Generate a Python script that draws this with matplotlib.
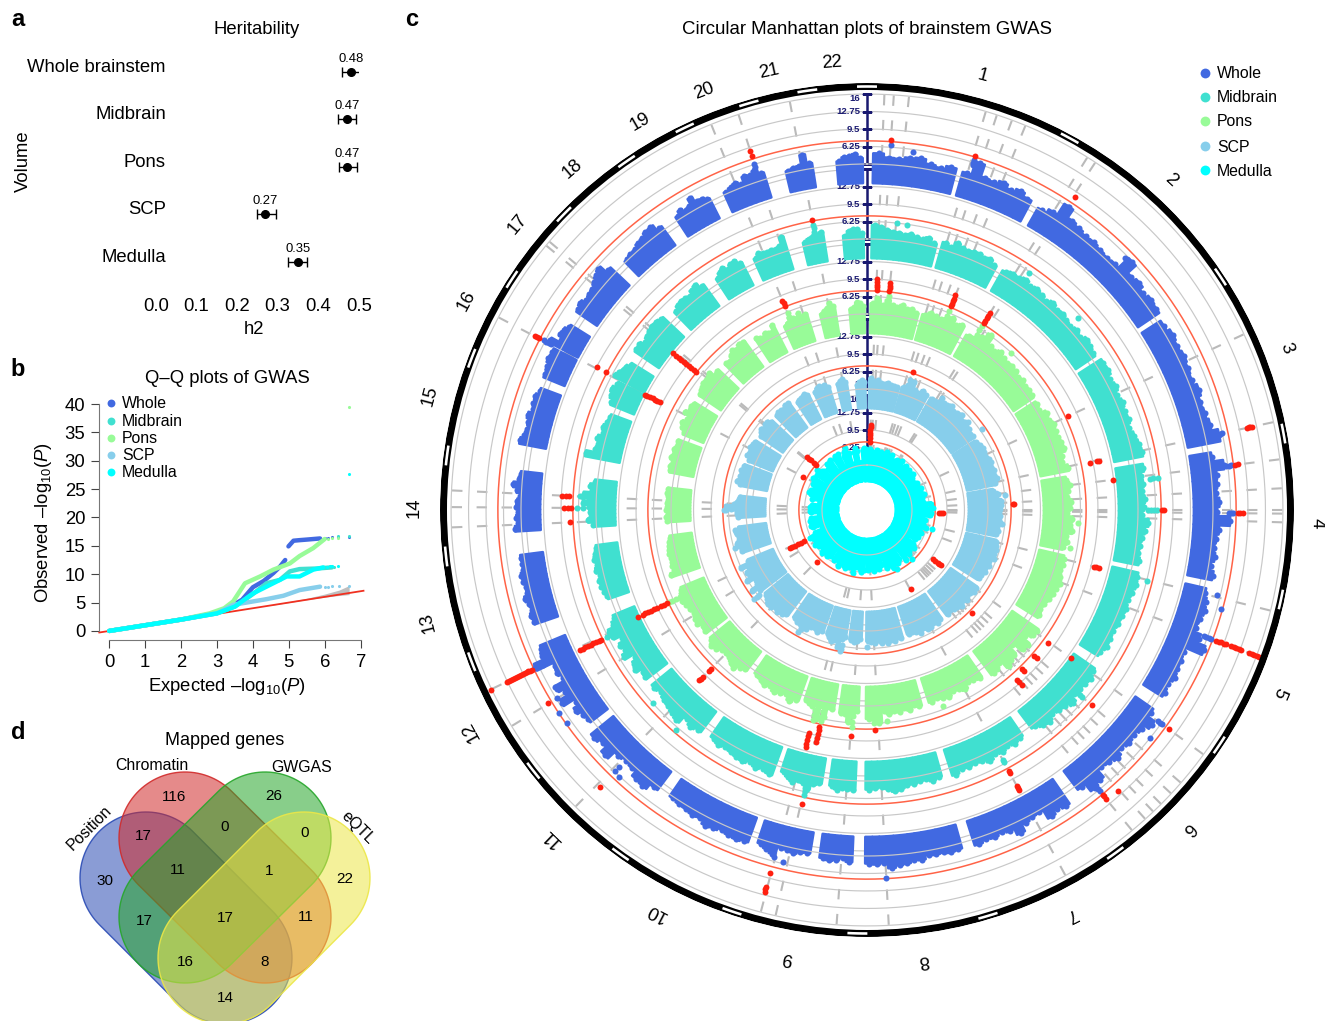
import numpy as np
import matplotlib
matplotlib.use("Agg")
import matplotlib.pyplot as plt
from matplotlib.patches import Polygon

plt.rcParams["font.family"] = ["Liberation Sans", "DejaVu Sans"]
plt.rcParams["mathtext.fontset"] = "custom"
plt.rcParams["mathtext.rm"] = "Liberation Sans"
plt.rcParams["mathtext.it"] = "Liberation Sans:italic"
plt.rcParams["mathtext.default"] = "regular"

W, H = 1325, 1021
BLUE, TEAL, GREEN, SKY, CYAN = "#4169E1", "#40E0D0", "#98FB98", "#87CEEB", "#00FFFF"
TRACK_NAMES = ["Whole", "Midbrain", "Pons", "SCP", "Medulla"]
TRACK_COLORS = [BLUE, TEAL, GREEN, SKY, CYAN]

# panel a
h2_names = ["Whole brainstem", "Midbrain", "Pons", "SCP", "Medulla"]
h2_values = [0.48, 0.47, 0.47, 0.27, 0.35]
h2_lo = [0.458, 0.448, 0.45, 0.25, 0.325]
h2_hi = [0.504, 0.493, 0.495, 0.295, 0.373]

# panel b, observed against expected (nan = break in the curve)
nan = float("nan")
qq_x = {
    "Whole": [0, 1, 2, 3, 3.4, 3.7, 4, 4.3, 4.57, 4.75, 4.9, nan, 4.99, 5.13, 5.3, 5.5, 5.87],
    "Midbrain": [0, 1, 2, 3, 3.5, 4, 4.38, 4.75, 5.03, 5.3, 5.78, 6.2],
    "Pons": [0, 1, 2, 2.8, 3.2, 3.45, 3.78, 4.2, 4.57, 5.03, 5.3, 5.68, 6.0],
    "SCP": [0, 1, 2, 3, 3.45, 4.38, 4.85, 5.3, 5.87],
    "Medulla": [0, 1, 2, 3, 3.5, 4, 4.66, 4.94, 5.3, 5.68, 5.96],
}
qq_y = {
    "Whole": [0, 1, 2, 3.2, 4.4, 5.5, 7.7, 8.8, 10.2, 11.3, 12.5, nan, 14.9, 15.9, 16.0, 16.1, 16.3],
    "Midbrain": [0, 1, 2, 3.1, 4.3, 6.5, 8.4, 9.0, 10.5, 10.9, 11.0, 11.2],
    "Pons": [0, 1, 2, 3.1, 4.0, 5.2, 8.4, 9.6, 10.8, 11.9, 13.2, 14.6, 16.2],
    "SCP": [0, 1, 2, 3.1, 4.6, 5.6, 6.2, 7.2, 7.8],
    "Medulla": [0, 1, 2, 3.1, 4.3, 6.6, 8.7, 9.6, 9.6, 10.8, 11.2],
}
qq_tail_x = {
    "Whole": [6.0, 6.1, 6.2, 6.38, 6.68],
    "Midbrain": [6.25, 6.38, 6.68],
    "Pons": [6.1, 6.2, 6.37, 6.68],
    "SCP": [6.0, 6.1, 6.2, 6.4, 6.68],
    "Medulla": [6.05, 6.15, 6.2, 6.38, 6.68],
}
qq_tail_y = {
    "Whole": [16.4, 16.4, 16.5, 16.5, 16.6],
    "Midbrain": [11.3, 16.8, 16.8],
    "Pons": [16.2, 16.3, 16.3, 39.4],
    "SCP": [7.8, 7.8, 7.9, 7.9, 8.0],
    "Medulla": [11.3, 11.4, 11.4, 11.4, 27.7],
}
ci_x = [4.5, 5.5, 6.0, 6.4, 6.68]
ci_lo = [4.5, 5.5, 5.95, 6.25, 6.4]
ci_hi = [4.6, 5.75, 6.5, 7.2, 8.0]

# panel d
venn_counts = ["116", "26", "17", "0", "0", "30", "11", "1", "22", "17", "17", "11", "16", "8", "14"]

# panel c, sectors in degrees clockwise from the top (chr1, chr9 and chr16 split at the centromere)
sector_start = [1, 15.8, 29.5, 57.2, 80.5, 103, 124.8, 145.4, 164.3, 182.4, 189.4, 199.7, 216.8,
                232.5, 251, 266.5, 280.8, 292.3, 297.8, 304.3, 315.7, 326.8, 335.7, 346.5, 355]
sector_end = [14.7, 28, 56, 79, 101.5, 122.3, 143, 162.2, 180.3, 187.8, 198.2, 214.6, 230.9,
              247.5, 262.6, 276.4, 290.5, 297.3, 302, 313.4, 324.1, 333.2, 343, 351, 359.3]
chrom_edges = [0, 28.6, 56.6, 79.6, 102.2, 123.7, 144.1, 163.4, 181.3, 198.6, 215.6, 232, 249,
               263.7, 277.4, 291, 303, 314.3, 325.4, 334.5, 343.8, 351.9]
chrom_labels = [str(i) for i in range(1, 23)]
chrom_label_angle = [15, 42.6, 68.7, 91.4, 113.5, 134.5, 153, 172.6, 190, 207.6, 224, 241, 256,
                     270.6, 285, 298, 309.6, 319.5, 330, 339, 347.7, 355.7]
signal_angles = [2.4, 3.7, 5.8, 16.6, 18.2, 20.4, 22.4, 32, 33.3, 65, 77.8, 83, 87, 90, 90.5, 91.7,
                 104, 110.5, 126, 131, 133, 135, 136.5, 138, 140.4, 151.5, 177, 184.2, 192.7, 194.8,
                 224.5, 238.7, 244.5, 267.6, 270.4, 272.7, 297.6, 309.5, 310.2, 338, 342, 349.3]

# top of each band in -log10(P), one list per sector
whole_env = [
    [5.0, 4.3, 4.2, 4.6, 4.8, 4.0, 3.7, 4.3], [4.0, 6.5, 4.2, 4.0, 4.6, 3.9, 4.5, 3.8],
    [3.2, 4.0, 6.4, 4.6, 4.2, 3.8, 3.9, 3.6, 3.4, 3.6, 6.2, 4.2, 4.6, 3.9, 4.4, 4.2],
    [3.6, 4.2, 3.9, 4.2, 3.9, 3.7, 4.3, 3.8, 4.0, 4.4, 5.6],
    [3.5, 5.5, 4.0, 3.9, 3.7, 4.2, 3.8, 6.2, 4.2, 3.8, 3.6, 3.9, 3.4, 4.1],
    [3.4, 3.9, 4.2, 3.8, 3.6, 4.9, 6.5, 3.2, 3.4, 3.5, 3.8, 3.3, 3.6],
    [3.5, 5.0, 4.0, 3.5, 3.9, 3.4, 4.2, 3.6, 3.4, 5.0, 5.5, 3.8],
    [5.0, 4.5, 5.2, 3.4, 3.5, 3.9, 5.2, 4.0, 3.6, 4.0, 3.8, 4.2],
    [4.0, 4.2, 3.9, 4.0, 3.8, 4.5, 4.3, 4.8, 5.0, 5.4, 4.3, 4.6, 4.4],
    [4.2, 3.6, 4.0, 4.2, 3.9], [3.4, 3.5, 3.9, 3.6, 3.5, 5.0, 4.4, 3.8],
    [4.3, 4.6, 4.4, 4.0, 4.4, 4.6, 3.9, 4.0, 3.7, 3.6, 3.3],
    [3.7, 4.8, 4.6, 3.6, 3.3, 3.7, 5.4, 4.2, 4.8],
    [3.5, 3.8, 4.5, 3.5, 5.8, 4.2, 5.2, 3.3, 3.8, 3.6, 6.9, 5.0, 4.5],
    [4.0, 4.2, 3.7, 3.9, 4.4, 3.8, 3.6, 4.0, 4.1, 3.6, 3.5, 3.7],
    [4.2, 3.6, 3.9, 3.5, 3.9, 3.7, 3.2, 3.9, 4.6, 3.7, 3.4],
    [4.5, 3.9, 3.6, 3.8, 4.2, 3.6, 3.8, 3.9, 3.4], [3.7, 3.9, 4.3, 4.2], [5.5, 3.8, 4.5, 4.3, 3.6],
    [4.1, 4.5, 3.9, 4.1, 4.3, 4.7, 5.3, 5.8, 4.3], [3.2, 3.5, 3.6, 4.1, 4.3, 4.8, 4.9, 3.8],
    [3.7, 4.4, 3.8, 4.1, 5.4, 4.3, 4.2, 3.6], [3.4, 3.8, 4.2, 3.6, 4.8, 4.6, 5.2, 4.3],
    [3.4, 3.7, 3.9, 5.8, 4.0], [3.7, 4.4, 4.5, 4.9, 4.1],
]
midbrain_env = [
    [5.6, 5.3, 4.8, 4.6, 4.5, 4.2, 4.5, 4.2, 4.0, 4.5, 3.7], [4.4, 4.0, 5.0, 4.5, 4.3, 4.5, 4.7, 4.2, 4.6, 3.9],
    [3.8, 4.3, 4.2, 4.7, 4.1, 4.5, 4.2, 3.7, 4.4, 3.9, 4.2, 3.8, 3.6, 4.0, 3.7, 4.4, 4.1, 3.8],
    [4.4, 4.5, 3.9, 4.3, 3.8, 4.2, 3.9, 4.1, 3.7, 4.2, 4.6, 4.9],
    [4.6, 4.0, 4.2, 3.9, 4.3, 4.1, 3.8, 5.0, 4.4, 4.0, 3.8, 3.7, 4.1],
    [4.4, 4.6, 4.2, 3.9, 4.2, 4.0, 3.9, 3.6, 3.8, 3.9, 3.4],
    [4.2, 4.7, 4.4, 4.3, 4.0, 5.2, 4.4, 4.2, 3.8, 4.6, 4.2, 3.5],
    [3.6, 4.0, 3.6, 4.2, 3.9, 4.6, 4.0, 3.7, 4.0, 3.8, 4.5],
    [4.0, 4.4, 3.9, 4.0, 4.3, 4.2, 4.8, 5.2, 4.6, 4.2, 4.4, 4.6],
    [4.8, 4.6, 4.5, 4.9, 4.3], [4.2, 4.6, 5.6, 4.8, 4.4, 5.0, 4.4, 3.8],
    [5.0, 4.5, 4.8, 4.3, 4.8, 4.6, 4.3, 4.0, 4.3, 3.8], [4.2, 4.6, 4.0, 5.4, 5.0, 4.6, 4.3, 3.8, 4.2],
    [4.3, 4.0, 5.0, 4.6, 3.6, 5.5, 4.5, 5.0, 4.0, 5.4, 5.7, 4.5, 3.8],
    [3.5, 3.8, 4.0, 4.1, 3.7, 4.3, 3.9, 4.2, 3.8, 3.5], [3.6, 4.5, 3.9, 4.2, 4.3, 5.5, 3.7, 5.4, 3.9, 4.3, 3.5],
    [6.0, 4.4, 4.2, 4.5, 3.8, 4.1, 3.6, 3.4], [4.2, 4.8, 5.2, 4.6], [5.8, 5.3, 5.0, 4.8, 4.2],
    [4.9, 5.0, 4.3, 4.8, 5.0, 5.3, 5.2, 4.8], [3.9, 4.5, 4.7, 4.5, 4.3, 5.0, 5.3, 4.4],
    [3.9, 4.6, 5.0, 4.3, 4.9, 5.1, 4.2], [3.8, 4.4, 4.2, 4.0, 4.2, 4.1, 4.3, 5.8],
    [3.7, 4.2, 4.5, 4.6, 5.0], [3.8, 4.6, 4.9, 4.8, 4.2],
]
pons_env = [
    [5.0, 5.6, 4.8, 5.8, 5.0, 4.7, 5.2, 4.6, 4.8, 4.3], [4.4, 5.0, 4.8, 4.6, 5.0, 5.6, 4.8, 5.2],
    [4.0, 4.3, 5.2, 6.4, 4.8, 4.5, 5.0, 4.6, 4.3, 4.6, 4.4, 4.0, 4.2, 3.8, 4.1, 3.9],
    [3.8, 3.5, 4.5, 4.3, 4.8, 4.6, 4.5, 4.8, 5.0, 4.2, 3.9, 4.8],
    [4.0, 4.5, 4.1, 3.8, 4.6, 4.3, 3.8, 4.8, 4.4, 4.9, 3.9, 4.2, 3.6],
    [4.2, 4.4, 4.2, 4.6, 5.0, 4.6, 4.5, 4.2, 3.9, 3.6, 4.1],
    [5.4, 5.2, 4.2, 5.6, 5.4, 3.4, 5.0, 5.2, 5.8, 4.2, 4.8, 5.0],
    [4.2, 3.8, 3.7, 4.6, 4.0, 3.8, 4.5, 4.2, 3.8, 4.2],
    [4.3, 3.9, 4.6, 4.0, 4.6, 4.2, 4.7, 4.0, 6.2, 5.0, 5.4],
    [4.0, 4.2, 6.2, 4.7, 4.6], [4.2, 3.8, 5.8, 4.0, 6.5, 3.9, 4.4, 4.0, 3.6],
    [4.2, 4.9, 4.0, 4.3, 4.6, 3.9, 4.3, 3.8, 3.4], [3.8, 4.2, 5.0, 4.6, 4.1, 3.8, 4.0, 4.6, 5.0, 4.2],
    [4.2, 4.0, 4.6, 4.4, 4.0, 4.3, 4.5, 5.0, 4.7, 4.1], [5.0, 4.2, 4.3, 4.0, 4.1, 4.3, 4.2, 4.0, 3.8, 3.6],
    [3.8, 3.9, 3.6, 3.9, 3.7, 3.8, 3.6, 3.7, 3.9, 3.8], [4.0, 4.1, 3.7, 4.3, 3.9, 4.2, 3.8, 4.0],
    [3.6, 4.2, 4.6, 4.1], [5.0, 4.4, 4.6, 4.3], [4.3, 4.6, 4.8, 5.2, 4.8, 5.0, 5.4, 4.3, 4.6],
    [4.4, 4.2, 4.8, 5.4, 5.0, 5.6, 5.4], [4.6, 4.2, 4.0, 4.6, 4.3, 4.0, 5.2],
    [4.0, 4.4, 5.2, 4.8, 4.5, 5.3, 4.6, 4.8], [4.0, 4.4, 4.8, 5.7, 5.0], [4.0, 4.3, 5.2, 5.0, 4.5],
]
scp_env = [
    [5.0, 4.5, 4.7, 4.3, 4.2, 4.5, 4.2, 4.1, 4.0], [4.3, 4.5, 5.8, 4.6, 4.2, 5.0, 4.6],
    [4.5, 4.4, 4.6, 5.0, 5.1, 5.5, 4.9, 5.1, 5.4, 4.8, 5.0, 4.6, 4.8, 4.3, 4.5],
    [4.3, 4.7, 5.0, 4.8, 4.7, 5.1, 5.2, 4.9, 5.3, 5.0, 5.4, 4.8],
    [4.2, 5.0, 4.6, 5.5, 4.9, 5.3, 5.0, 5.3, 5.1, 5.7, 4.8, 5.2, 4.9],
    [5.2, 5.5, 5.6, 5.4, 5.8, 5.1, 5.5, 5.0, 5.3, 4.9, 4.8], [5.4, 5.6, 5.2, 5.0, 5.5, 5.0, 5.6, 5.2, 5.0, 4.7, 5.1],
    [4.8, 5.2, 4.8, 5.3, 5.3, 4.8, 5.4, 5.0, 4.6, 4.8], [5.2, 4.8, 5.4, 5.1, 5.6, 4.9, 5.4, 4.8, 5.2, 5.0, 4.9],
    [4.6, 5.0, 5.1, 4.8], [4.5, 5.0, 6.6, 5.0, 5.4, 5.8, 5.1, 4.7], [4.6, 5.0, 4.5, 4.6, 5.4, 5.8, 5.1, 5.0, 4.7],
    [5.0, 5.5, 5.8, 5.4, 5.9, 6.0, 5.3, 5.0], [5.4, 6.6, 5.2, 5.0, 6.4, 5.5, 5.8, 5.0, 6.4, 4.5],
    [5.0, 4.9, 5.2, 5.5, 5.0, 4.8, 5.0, 5.2, 4.6], [4.5, 4.6, 4.6, 5.8, 6.8, 5.2, 4.7, 4.4, 4.3],
    [4.6, 5.3, 4.9, 5.0, 4.7, 5.1, 4.6, 4.8], [4.4, 5.0, 4.9], [5.2, 5.0, 4.8], [4.6, 4.9, 5.3, 4.9, 5.2, 5.3, 4.7],
    [4.8, 5.0, 5.0, 4.9, 5.3, 5.2], [4.3, 4.5, 4.7, 4.8, 5.0, 4.6], [4.5, 5.0, 5.2, 4.9, 5.1, 4.5],
    [4.6, 5.0, 5.2, 4.7], [3.8, 4.4, 4.6, 4.3],
]
medulla_env = [
    [5.2, 5.6, 5.4, 4.9, 6.0, 5.4, 5.8], [5.6, 6.0, 5.2, 5.8, 5.0], [5.4, 5.0, 5.8, 5.0, 5.5, 4.9, 5.4, 4.8, 5.6, 5.0],
    [4.7, 5.2, 4.8, 5.4, 5.0, 5.6, 5.2], [5.2, 6.6, 5.4, 6.2, 5.0, 6.4, 5.0, 5.6], [5.4, 6.2, 5.0, 5.6, 4.8, 5.4, 5.0],
    [5.3, 5.8, 5.1, 5.5, 5.9, 5.3, 6.4], [5.5, 6.0, 5.8, 6.6, 5.6, 6.0], [5.2, 5.8, 5.4, 6.0, 5.5, 5.8],
    [5.8, 6.2, 5.6], [5.4, 6.6, 5.4, 5.8], [6.2, 5.6, 6.4, 5.4, 5.7], [5.4, 5.9, 5.5, 6.2, 5.4],
    [5.8, 6.2, 5.4, 5.9, 6.0, 5.2], [5.2, 5.5, 5.0, 5.4, 5.1], [5.0, 5.3, 4.8, 5.2, 4.9], [5.1, 4.8, 5.4, 5.0, 5.6],
    [5.2, 5.8], [5.9, 6.3], [6.0, 5.5, 6.6, 5.7, 5.4], [5.2, 6.0, 5.7, 6.2], [5.8, 6.4, 5.6, 6.3], [5.5, 6.3, 6.8, 5.8],
    [5.6, 6.3, 5.7], [5.8, 6.2, 5.9],
]
track_env = [whole_env, midbrain_env, pons_env, scp_env, medulla_env]

# single SNPs above the bands, (angle, values); red from 7.3 upwards
whole_hits = [
    (3.7, [6.7, 7.6]), (7.3, [5.8]), (17, [5.8, 6.2, 6.7, 7.5]), (33.6, [6.3, 8.5]), (45.7, [5.8]),
    (77.8, [5.8, 6.2, 11, 11.3, 11.6, 11.9]), (83, [6, 6.4, 6.8, 7.6, 8.2]), (90.4, [6, 6.4, 6.8, 7.6, 8, 8.6]),
    (103.7, [5.6]), (105.7, [7.0]),
    (110.5, [5.5, 6, 6.5, 7, 8, 8.5, 9, 9.6, 10, 11, 11.5, 12, 12.5, 13, 14.5, 15, 15.5, 16, 16.5, 17]),
    (126, [5.5, 6, 6.5, 8]), (128.9, [6.2]), (138.2, [8.7]), (140.4, [5.5, 6, 6.5, 7.4, 7.8, 8.3]),
    (177, [7.2]), (193.4, [6]), (195, [5.5, 8.6, 11.2, 11.6, 12.1]), (224, [5, 6, 10.2]), (222.9, [6.4]),
    (240.4, [5.4]), (238.8, [6, 8]), (236.6, [7.2]), (234.6, [7.0]),
    (244.5, [5.5, 6.2, 7, 7.6, 8, 8.4, 8.8, 9.2, 9.6, 10, 10.4, 10.8, 11.2, 11.6, 12, 12.4, 12.9, 16.2]),
    (297.7, [5, 5.5, 6, 6.5, 7.5, 8, 8.4]), (342, [5.8, 6.4, 7.9, 8.8]),
]
midbrain_hits = [
    (6, [6.2]), (8, [6.1]), (349.3, [5.3, 5.9, 6.5, 7.5]), (34.4, [6.0]), (47.7, [5.7]),
    (83.7, [5.5, 6.2, 7.1]), (90, [4.8, 5.4, 6, 6.6, 7.5, 7.8]), (104.2, [6.3]), (131, [4.5, 5, 5.5, 8]),
    (151.5, [5.5, 6, 7.9, 8.3, 10.9, 11.4, 11.8]), (192.5, [4.8, 5.5, 6.2, 6.8, 8.6]), (221, [6.7]),
    (297.9, [7.5, 9.5]), (272.7, [4.5, 5.5, 6, 8, 8.6, 9.3]), (270.4, [5.5, 6.5, 7.6, 8.2, 9]), (267.6, [7.8]),
    (244, [5, 5.5, 6.5, 7.6, 8.1, 8.7, 9.2, 9.8, 10.3, 10.9, 11.4, 12]), (228, [6.2]),
]
pons_hits = [
    (2.6, [5, 6, 7.5, 8, 8.5, 9, 9.5]), (5.8, [5, 6.5, 7.5, 8, 8.5, 9]), (338, [5, 6, 7.5, 8, 8.5]),
    (22.4, [5.5, 6.5, 7.5, 8, 8.5, 9, 9.7]), (32, [5, 6, 7, 7.5, 8, 8.6, 9, 9.7]), (35, [5.6]), (42.5, [6.2]),
    (309, [5, 7.4, 8, 8.6, 9.2, 9.8, 10.4, 11, 11.6, 12.2, 13]), (297.5, [10, 10.5, 11, 11.5, 12, 12.6, 13]),
    (245, [5, 5.8, 6.6, 7.2, 7.6, 8.2, 8.8, 9.6, 10.2, 10.8, 11.4, 12, 12.6, 13.5]),
    (224.5, [8, 8.5, 10, 10.5, 11]), (194.5, [5, 6, 6.8, 9.3, 10, 10.8, 11.5, 12]),
    (192.4, [5, 6, 6.8, 7.8, 8.5, 9.2, 10, 10.8]), (184, [5, 6, 7, 8.6]), (174.6, [6]), (178, [4.8, 5.5, 6.2, 7.4]),
    (65, [7.8]), (78, [9, 10.6, 10.2]), (83, [12.7]), (104, [10, 10.4, 11]), (126.3, [8.4]), (131, [7.8, 8.4]),
    (135.7, [7.8, 8.4]), (138.6, [8.8, 9.3, 10]), (126.1, [13.4]), (158.8, [5.6]), (93.5, [5.8]), (100.6, [5.0]),
]
scp_hits = [
    (18.3, [5, 6, 7.6]), (87.7, [4.5, 5.5, 7.7, 7.9]), (134.4, [7.8]), (33.8, [5.6]), (45, [5.4]), (49, [5.4]),
    (54.8, [6.7]), (84, [6.3]), (261.5, [5.4]), (253.8, [6.0]), (231.7, [6, 6.6, 7.2]), (180, [6]),
    (190.7, [6, 6.8, 7.2]), (209.6, [6.6]), (270, [6.8, 7.0]),
]
medulla_hits = [
    (2.5, [5, 6, 7.3, 8, 8.5, 9, 9.5, 10, 10.5]), (311.6, [7.3, 7.8, 8.5, 9, 9.5]), (297, [8]),
    (243.7, [5.5, 6.5, 7.7, 8.3, 9, 9.6, 10.2, 10.6]), (224, [8]), (92.3, [5.5, 6.5, 8, 8.4, 8.8]),
    (126.7, [10, 10.5, 11, 11.4, 11.7]), (151, [11.4]), (287, [6]), (106, [7.2]), (153, [7]), (137.4, [7]),
    (88, [5.5, 6.5, 6.9]),
]
track_hits = [whole_hits, midbrain_hits, pons_hits, scp_hits, medulla_hits]

axis_ticks = [3, 6.25, 9.5, 12.75, 16]
axis_labels = ["3", "6.25", "9.5", "12.75", "16"]
threshold = 7.3

fig = plt.figure(figsize=(W / 100, H / 100), dpi=100)


def px_axes(left, top, right, bottom, **kw):
    return fig.add_axes([left / W, 1 - bottom / H, (right - left) / W, (bottom - top) / H], **kw)


bg = fig.add_axes([0, 0, 1, 1])
bg.set_xlim(0, W)
bg.set_ylim(H, 0)
bg.axis("off")

for letter, x, y in [("a", 18, 20), ("b", 18, 369), ("d", 18, 732), ("c", 412, 20)]:
    bg.text(x, y, letter, fontsize=17, fontweight="bold", ha="center", va="center")

# a: heritability
ax = px_axes(155.7, 45, 359, 292)
ax.patch.set_alpha(0)
rows = np.arange(5)
ax.errorbar(h2_values, rows, xerr=[np.array(h2_values) - h2_lo, np.array(h2_hi) - h2_values], fmt="o", color="k",
            ms=5.5, elinewidth=1, capsize=3.6, capthick=1)
for val, row in zip(h2_values, rows):
    ax.annotate(f"{val:.2f}", (val, row), xytext=(0, 9.4), textcoords="offset points", ha="center", va="center",
                fontsize=9.4)
ax.set_xlim(0, 0.5)
ax.set_ylim((292 - 71.7) / 47.6, (45 - 71.7) / 47.6)
ax.set_yticks(rows - 0.14, h2_names, fontsize=13.3)
ax.set_xticks([0, 0.1, 0.2, 0.3, 0.4, 0.5], ["0.0", "0.1", "0.2", "0.3", "0.4", "0.5"], fontsize=13.3)
ax.tick_params(length=0)
ax.tick_params(axis="y", pad=-7.4)
ax.tick_params(axis="x", pad=4)
for s in ax.spines.values():
    s.set_visible(False)
bg.text(257, 29.5, "Heritability", fontsize=13.3, ha="center", va="center")
bg.text(254, 329.5, "h2", fontsize=13.3, ha="center", va="center")
bg.text(23, 161, "Volume", fontsize=13.3, rotation=90, ha="center", va="center")

# b: Q-Q
ax = px_axes(99.3, 404, 363.5, 640)
ax.patch.set_alpha(0)
ax.fill_between(ci_x, ci_lo, ci_hi, color="#BEBEBE", lw=0, zorder=1)
ax.plot([-0.278, 7.08], [-0.278, 7.08], color="#F03020", lw=1.3, zorder=2, clip_on=False)
for name, color in zip(TRACK_NAMES, TRACK_COLORS):
    ax.plot(qq_x[name], qq_y[name], color=color, lw=3.2, zorder=3, solid_capstyle="round")
    ax.scatter(qq_tail_x[name], qq_tail_y[name], color=color, s=5, lw=0, zorder=3, clip_on=False)
ax.set_xlim(-0.278, 7.08)
ax.set_ylim(-1.6, 40)
ax.set_xticks(range(8))
ax.set_yticks(range(0, 41, 5))
ax.tick_params(labelsize=13.3, length=6, width=0.8, color="#444444", pad=4)
ax.spines["top"].set_visible(False)
ax.spines["right"].set_visible(False)
ax.spines["left"].set_bounds(0, 40)
ax.spines["bottom"].set_bounds(0, 7)
ax.spines["left"].set_color("#777777")
ax.spines["bottom"].set_color("#777777")
bg.text(227, 378, "Q\u2013Q plots of GWAS", fontsize=13.3, ha="center", va="center")
bg.text(227, 686, "Expected \u2013log$_{10}$($\\mathit{P}$)", fontsize=13.3, ha="center", va="center")
bg.text(44, 523, "Observed \u2013log$_{10}$($\\mathit{P}$)", fontsize=13.3, rotation=90, ha="center", va="center")
for name, color, y in zip(TRACK_NAMES, TRACK_COLORS, [403, 421, 437.7, 454.5, 471.5]):
    bg.scatter([110.7], [y], color=color, s=32, lw=0, zorder=5)
    bg.text(122, y + 0.5, name, fontsize=11.4, va="center", zorder=5)

# d: Venn
stadiums = [
    ((146, 878), (226, 958), "#2A4BB4"),
    ((185, 838), (265, 917), "#D12A2A"),
    ((265, 838), (185, 917), "#26A62A"),
    ((304, 878), (224, 958), "#ECE747"),
]
for p0, p1, color in stadiums:
    a = np.arctan2(p1[1] - p0[1], p1[0] - p0[0])
    t0 = np.linspace(a + np.pi / 2, a + 3 * np.pi / 2, 60)
    t1 = np.linspace(a - np.pi / 2, a + np.pi / 2, 60)
    xs = np.r_[p0[0] + 66 * np.cos(t0), p1[0] + 66 * np.cos(t1)]
    ys = np.r_[p0[1] + 66 * np.sin(t0), p1[1] + 66 * np.sin(t1)]
    bg.add_patch(Polygon(np.c_[xs, ys], closed=True, fc=matplotlib.colors.to_rgba(color, 0.55),
                         ec=matplotlib.colors.to_rgba(color, 0.9), lw=1))
venn_x = [522, 820, 430, 675, 915, 315, 533, 807, 1035, 432, 675, 917, 556, 795, 677]
venn_y = [232, 228, 348, 322, 340, 482, 450, 453, 478, 602, 595, 592, 725, 725, 835]
for txt, x, y in zip(venn_counts, venn_x, venn_y):
    bg.text(x / 3, 720 + y / 3, txt, fontsize=11, ha="center", va="center")
bg.text(225, 740, "Mapped genes", fontsize=13, ha="center", va="center")
bg.text(152, 765, "Chromatin", fontsize=11.4, ha="center", va="center")
bg.text(302, 767, "GWGAS", fontsize=11.4, ha="center", va="center")
bg.text(89, 828, "Position", fontsize=11.4, rotation=45, ha="center", va="center")
bg.text(358, 828, "eQTL", fontsize=11.4, rotation=-45, ha="center", va="center")

# c: circular Manhattan, radius in pixels
ax = px_axes(440, 83, 1294, 937, projection="polar")
ax.patch.set_alpha(0)
ax.set_theta_zero_location("N")
ax.set_theta_direction(-1)
ax.set_rlim(0, 427)
ax.axis("off")

track_r3 = [346, 271, 196, 121, 45]
unit = 5.38


def radius(track, v):
    return track_r3[track] + (np.asarray(v, dtype=float) - 3) * unit


circle = np.linspace(0, 2 * np.pi, 720)
for ang in signal_angles:
    ax.plot(np.radians([ang, ang]), [30, 420], color="#BABABA", lw=1.5, dashes=(5, 7), zorder=1)

tick_va = {3: "bottom", 16: "top"}
for t, color in enumerate(TRACK_COLORS):
    for tick, label in zip(axis_ticks, axis_labels):
        r = radius(t, tick)
        # only the 3 ring shows through the band
        ax.plot(circle, np.full_like(circle, r), color="#C8C8C8", lw=0.85, zorder=4 if tick == 3 else 2)
        ax.plot([0], [r], marker="_", ms=7, mew=1, color="#191970", zorder=2)
        ax.annotate(label, (0, r), xytext=(-5, 0), textcoords="offset points", ha="right",
                    va=tick_va.get(tick, "center"), fontsize=6.8, fontweight="bold", color="#191970", zorder=2)
    ax.plot([0, 0], [radius(t, 3), radius(t, 16)], color="#191970", lw=1.8, zorder=2)
    ax.plot(circle, np.full_like(circle, radius(t, threshold)), color="#FF6347", lw=1.1, zorder=4)

    base = radius(t, 0) if t == 4 else radius(t, 0) - 3
    if t == 4:
        ax.bar(0, radius(t, 4) - base, width=2 * np.pi, bottom=base, color=color, lw=0, zorder=3)
    for start, end, env in zip(sector_start, sector_end, track_env[t]):
        step = (end - start) / len(env)
        th = np.radians(start + step * (np.arange(len(env)) + 0.5))
        tops = radius(t, env)
        ax.bar(th, tops - base, width=np.radians(step), bottom=base, color=color, ec=color, lw=1.8,
               joinstyle="round", zorder=3)
        ax.scatter(th, tops, color=color, s=19, lw=0, zorder=3)
    for ang, vals in track_hits[t]:
        vals = np.array(vals)
        low = vals < threshold
        th = np.full(vals.shape, np.radians(ang))
        ax.scatter(th[low], radius(t, vals[low]), color=color, s=19, lw=0, zorder=5)
        ax.scatter(th[~low], radius(t, vals[~low]), color="#FF2010", s=18, lw=0, zorder=6)

# outer ring
ax.bar(0, 7, width=2 * np.pi, bottom=420, color="k", lw=0, zorder=7)
ax.bar(np.radians(chrom_edges), 2.6, width=np.radians(2.7), bottom=422.2, color="w", lw=0, zorder=8)
for label, ang in zip(chrom_labels, chrom_label_angle):
    # labels sit slightly off the ring centre, lower and to the left
    ax.annotate(label, (np.radians(ang), 453.5), xytext=(-1, -1.8), textcoords="offset points", fontsize=13.3,
                rotation=-ang, rotation_mode="anchor", ha="center", va="center_baseline", annotation_clip=False)

bg.text(867, 29, "Circular Manhattan plots of brainstem GWAS", fontsize=13.4, ha="center", va="center")
for name, color, y in zip(TRACK_NAMES, TRACK_COLORS, [73, 97, 121, 146, 170]):
    bg.scatter([1205], [y], color=color, s=50, lw=0)
    bg.text(1217, y + 1, name, fontsize=11.4, va="center")

fig.savefig("out.png", dpi=100)
